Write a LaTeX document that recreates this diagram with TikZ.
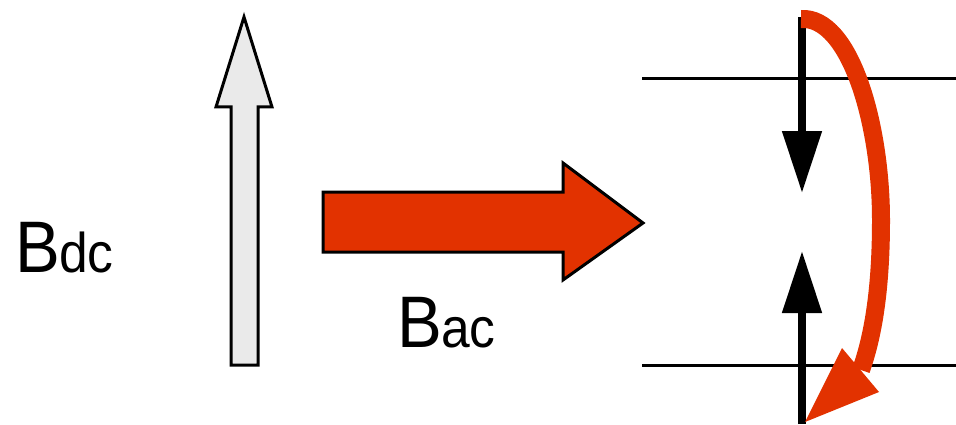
\documentclass[tikz,border=0pt]{standalone}
\usepackage{fontspec}
\setmainfont{Liberation Sans}
\usepackage{xcolor}
\usetikzlibrary{arrows.meta}

\definecolor{acred}{RGB}{226,50,0}
\definecolor{dcgrey}{RGB}{234,234,234}

\newcommand{\fieldlabel}[2]{\scalebox{0.92}[1]{{\fontsize{73}{80}\selectfont #1\kern-1pt}{\fontsize{56}{60}\selectfont #2}}}

\begin{document}
\begin{tikzpicture}[
    x=1pt, y=1pt,
    blockarrow/.style={draw=black, line width=3pt, line join=miter},
    level/.style={draw=black, line width=3pt},
    spin/.style={draw=black, line width=8pt, -{Triangle[length=62pt, width=38pt]}},
    flip/.style={draw=acred, line width=18pt},
    fieldname/.style={inner sep=0pt, anchor=base west},
]
\useasboundingbox (0,0) rectangle (956,424);

% static field
\draw[blockarrow, fill=dcgrey] (231,59) -- (258,59) -- (258,317) -- (272,317)
    -- (244,407) -- (216,317) -- (231,317) -- cycle;
\node[fieldname] (bdc) at (15,152) {\fieldlabel{B}{dc}};

% rf field
\draw[blockarrow, fill=acred] (323,172) -- (563,172) -- (563,144) -- (643,201)
    -- (563,261) -- (563,232) -- (323,232) -- cycle;
\node[fieldname] (bac) at (397,77) {\fieldlabel{B}{ac}};

% energy levels
\coordinate (uleft) at (642,345);
\coordinate (uright) at (956,345);
\coordinate (lleft) at (642,59);
\coordinate (lright) at (956,59);
\draw[level] (uleft) -- (uright);
\draw[level] (lleft) -- (lright);

% spins
\coordinate (utop) at (802,407);
\coordinate (utip) at (802,231);
\coordinate (lbot) at (802,0);
\coordinate (ltip) at (802,173);
\draw[spin] (utop) -- (utip);
\draw[spin] (lbot) -- (ltip);

% spin flip
\coordinate (fstart) at (801,405);
\coordinate (fmid) at (881,204);
\coordinate (fbase) at (861,54);
\draw[flip] (fstart) .. controls (850,408) and (881,300) .. (fmid)
    .. controls (881,130) and (872,85) .. (fbase);
\fill[acred] (842,76) -- (879,32) -- (805,2) -- cycle;

\end{tikzpicture}
\end{document}
